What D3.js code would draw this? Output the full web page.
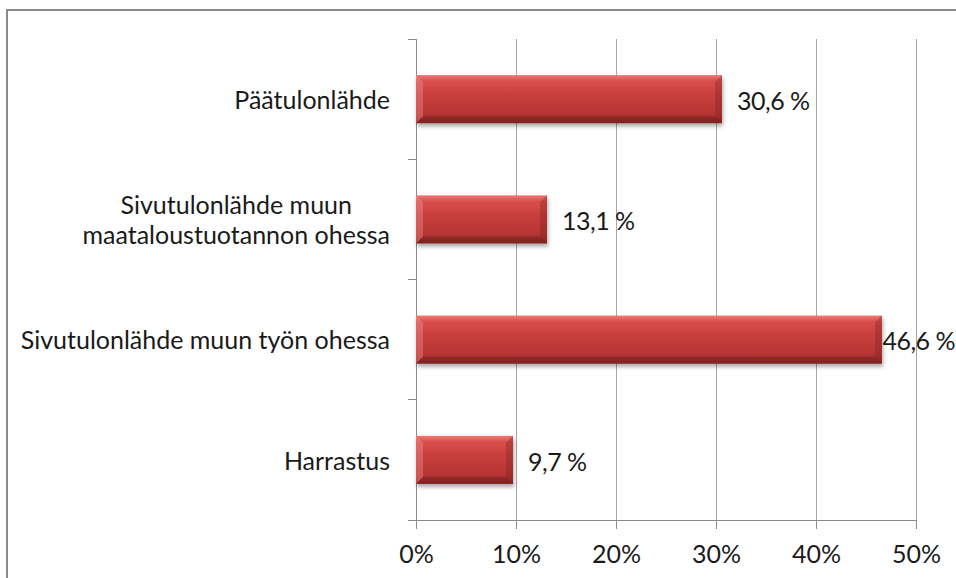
<!DOCTYPE html>
<html><head><meta charset="utf-8">
<script src="https://cdn.jsdelivr.net/npm/d3@7"></script>
<style>body{margin:0;background:#fff}svg{display:block}</style>
</head><body>
<script>
const categories = [["Päätulonlähde"], ["Sivutulonlähde muun", "maataloustuotannon ohessa"], ["Sivutulonlähde muun työn ohessa"], ["Harrastus"]];
const values = [30.6, 13.1, 46.6, 9.7];
const valueLabels = ["30,6 %", "13,1 %", "46,6 %", "9,7 %"];
const xTicks = [0, 10, 20, 30, 40, 50];
const xTickLabels = ["0%", "10%", "20%", "30%", "40%", "50%"];

(function () {
const W = 956, H = 578;
const font = "Lato, 'Open Sans', sans-serif";
const fs = 25;
const svg = d3.select("body").append("svg").attr("width", W).attr("height", H);
const defs = svg.append("defs");
const g1 = defs.append("linearGradient").attr("id", "barGrad").attr("x1", 0).attr("y1", 0).attr("x2", 0).attr("y2", 1);
[[0, "#f07a78"], [0.12, "#d9504d"], [0.4, "#c83f3d"], [0.8, "#b63533"], [1, "#8e2826"]].forEach(([o, c]) => g1.append("stop").attr("offset", o).attr("stop-color", c));
const f = defs.append("filter").attr("id", "shadow").attr("x", "-5%").attr("y", "-20%").attr("width", "110%").attr("height", "150%");
f.append("feDropShadow").attr("dx", 1).attr("dy", 3).attr("stdDeviation", 2).attr("flood-color", "#000").attr("flood-opacity", 0.35);

svg.append("rect").attr("x", 7).attr("y", 10).attr("width", W + 20).attr("height", H + 20)
  .attr("fill", "none").attr("stroke", "#8a8a8a").attr("stroke-width", 2);

const pL = 416, pR = 916, pT = 39, pB = 520;
const x = d3.scaleLinear().domain([0, 50]).range([pL, pR]);
const y = d3.scaleBand().domain(d3.range(categories.length)).range([pT, pB]).paddingInner(0.6).paddingOuter(0.3);

svg.append("g").selectAll("line").data(xTicks.slice(1)).join("line")
  .attr("x1", d => x(d)).attr("x2", d => x(d)).attr("y1", pT).attr("y2", pB + 9)
  .attr("stroke", "#a6a6a6").attr("stroke-width", 1).attr("shape-rendering", "crispEdges");

const xAxis = d3.axisBottom(x).tickValues(xTicks).tickFormat((d, i) => xTickLabels[i]).tickSize(9).tickSizeOuter(0);
const gx = svg.append("g").attr("transform", `translate(0,${pB})`).call(xAxis);
gx.select(".domain").attr("d", `M${pL - 8},0.5H${pR}`).attr("stroke", "#8c8c8c");
gx.selectAll(".tick line").attr("stroke", "#8c8c8c");
gx.selectAll(".tick text").attr("font-family", font).attr("font-size", fs).attr("fill", "#1a1a1a").attr("y", 43).attr("dy", 0);

const step = y.step();
const bounds = d3.range(categories.length + 1).map(i => pT + i * step);
svg.append("line").attr("x1", pL).attr("x2", pL).attr("y1", pT).attr("y2", pB)
  .attr("stroke", "#8c8c8c").attr("shape-rendering", "crispEdges");
svg.append("g").selectAll("line").data(bounds).join("line")
  .attr("x1", pL - 8).attr("x2", pL).attr("y1", d => d).attr("y2", d => d)
  .attr("stroke", "#8c8c8c").attr("shape-rendering", "crispEdges");

const labelRight = 390;
categories.forEach((lines, i) => {
  const cy = y(i) + y.bandwidth() / 2 + 1;
  const t = svg.append("text").attr("font-family", font).attr("font-size", fs).attr("fill", "#1a1a1a");
  const lh = 30;
  lines.forEach(ln => t.append("tspan").text(ln));
  const widths = [];
  t.selectAll("tspan").each(function () { widths.push(this.getComputedTextLength()); });
  const maxW = d3.max(widths);
  const cx = labelRight - maxW / 2;
  t.attr("text-anchor", "middle");
  t.selectAll("tspan").each(function (d, j) {
    d3.select(this).attr("x", cx).attr("y", cy + (j - (lines.length - 1) / 2) * lh).attr("dy", "0.35em");
  });
});

const bars = svg.append("g").selectAll("g").data(values).join("g");
bars.append("rect")
  .attr("x", x(0)).attr("y", (d, i) => y(i)).attr("width", d => x(d) - x(0)).attr("height", y.bandwidth())
  .attr("fill", "url(#barGrad)").attr("filter", "url(#shadow)");
const bev = 7;
bars.append("path").attr("fill", "#7d2220").attr("opacity", 0.35)
  .attr("d", (d, i) => { const x1 = x(d), y0 = y(i), y1 = y0 + y.bandwidth();
    return `M${x1},${y0}L${x1 - bev},${y0 + bev}L${x1 - bev},${y1 - bev}L${x1},${y1}Z`; });
bars.append("path").attr("fill", "#ff9c9a").attr("opacity", 0.35)
  .attr("d", (d, i) => { const x0 = x(0), y0 = y(i), y1 = y0 + y.bandwidth();
    return `M${x0},${y0}L${x0 + bev},${y0 + bev}L${x0 + bev},${y1 - bev}L${x0},${y1}Z`; });
bars.append("path").attr("fill", "#5a1716").attr("opacity", 0.3)
  .attr("d", (d, i) => { const x0 = x(0), x1 = x(d), y0 = y(i), y1 = y0 + y.bandwidth();
    return `M${x0},${y1}L${x0 + bev},${y1 - bev}L${x1 - bev},${y1 - bev}L${x1},${y1}Z`; });

const vl = svg.append("g").selectAll("text").data(values).join("text")
  .attr("y", (d, i) => y(i) + y.bandwidth() / 2 + 2)
  .attr("dy", "0.35em").attr("font-family", font).attr("font-size", fs).attr("fill", "#1a1a1a")
  .attr("letter-spacing", -0.5)
  .text((d, i) => valueLabels[i]);
vl.each(function (d) {
  const w = this.getComputedTextLength();
  d3.select(this).attr("x", Math.min(x(d) + 15, W - w - 1));
});
})();
</script>
</body></html>
